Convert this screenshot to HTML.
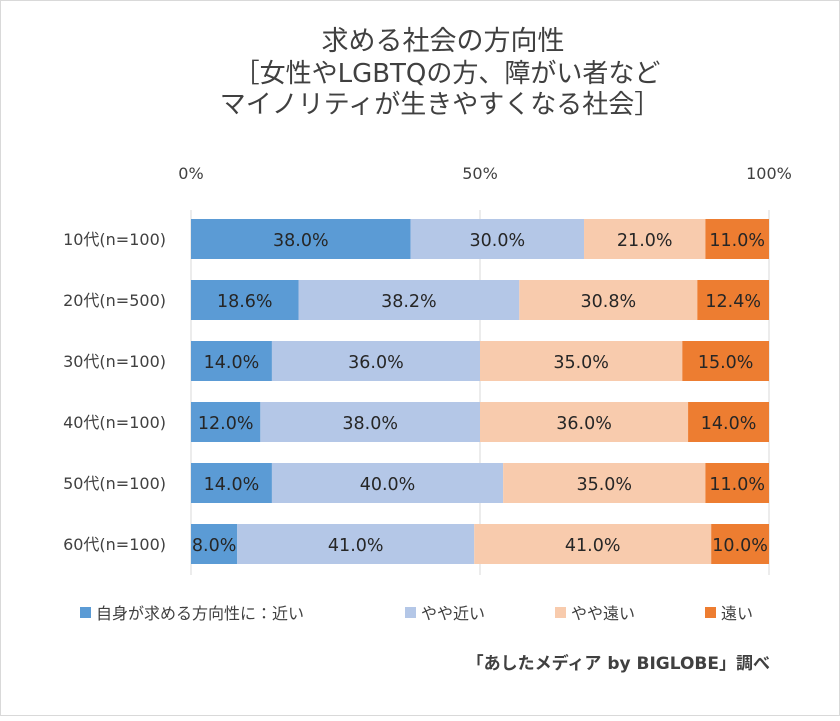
<!DOCTYPE html>
<html><head><meta charset="utf-8"><style>
body{margin:0;background:#fff}
svg text{font-family:"DejaVu Sans","Noto Sans CJK JP",sans-serif;fill:#404040}
</style></head><body>
<svg id="chart" width="840" height="716" viewBox="0 0 840 716">
<rect x="0.5" y="0.5" width="839" height="715" fill="#fff" stroke="#d9d9d9"/>
<g text-anchor="middle">
<text x="443" y="50" font-size="27">求める社会の方向性</text>
<text x="447" y="82" font-size="26">［女性やLGBTQの方、障がい者など</text>
<text x="440" y="113" font-size="26">マイノリティが生きやすくなる社会］</text>
</g>
<g id="grid"></g><g id="bars"></g>
<g font-size="16">
<rect x="80" y="607" width="11" height="11" fill="#5B9BD5"/>
<text x="96" y="619">自身が求める方向性に：近い</text>
<rect x="405" y="607" width="11" height="11" fill="#B4C7E7"/>
<text x="421" y="619">やや近い</text>
<rect x="555" y="607" width="11" height="11" fill="#F8CBAD"/>
<text x="571" y="619">やや遠い</text>
<rect x="705" y="607" width="11" height="11" fill="#ED7D31"/>
<text x="721" y="619">遠い</text>
</g>
<text x="770" y="669" text-anchor="end" font-size="17" font-weight="bold">「あしたメディア by BIGLOBE」調べ</text>
</svg>
<script>
const categories=["10代(n=100)","20代(n=500)","30代(n=100)","40代(n=100)","50代(n=100)","60代(n=100)"];
const near=[38.0,18.6,14.0,12.0,14.0,8.0];
const somewhatNear=[30.0,38.2,36.0,38.0,40.0,41.0];
const somewhatFar=[21.0,30.8,35.0,36.0,35.0,41.0];
const far=[11.0,12.4,15.0,14.0,11.0,10.0];
const ticks=[0,50,100];
const seriesList=[near,somewhatNear,somewhatFar,far];
const seriesNames=["near","somewhat-near","somewhat-far","far"];
const colors=["#5B9BD5","#B4C7E7","#F8CBAD","#ED7D31"];
const NS="http://www.w3.org/2000/svg";
const x0=191,x1=769;
const xs=v=>x0+(x1-x0)*v/100;
const yRow=i=>219+i*61;
const bh=40;
const grid=document.getElementById('grid'),bars=document.getElementById('bars');
ticks.forEach(t=>{
 const l=document.createElementNS(NS,'line');
 l.setAttribute('x1',xs(t));l.setAttribute('x2',xs(t));l.setAttribute('y1',210);l.setAttribute('y2',575);
 l.setAttribute('stroke','#d9d9d9');
 
 
 grid.appendChild(l);
 const tx=document.createElementNS(NS,'text');
 tx.setAttribute('x',xs(t));tx.setAttribute('y',179);tx.setAttribute('text-anchor','middle');tx.setAttribute('font-size','16');
 tx.textContent=t+'%';
 
 
 grid.appendChild(tx);
});
categories.forEach((c,i)=>{
 const y=yRow(i);
 const lb=document.createElementNS(NS,'text');
 lb.setAttribute('x',166);lb.setAttribute('y',y+26);lb.setAttribute('text-anchor','end');lb.setAttribute('font-size','16');
 lb.textContent=c;
 
 
 bars.appendChild(lb);
 let acc=0;
 seriesList.forEach((s,k)=>{
  const v=s[i];
  const r=document.createElementNS(NS,'rect');
  r.setAttribute('x',xs(acc));r.setAttribute('y',y);r.setAttribute('width',xs(acc+v)-xs(acc));r.setAttribute('height',bh);r.setAttribute('fill',colors[k]);
  
  
  bars.appendChild(r);
  const t=document.createElementNS(NS,'text');
  t.setAttribute('x',(xs(acc)+xs(acc+v))/2);t.setAttribute('y',y+27);t.setAttribute('text-anchor','middle');t.setAttribute('font-size','17.5');
  t.style.fill='#262626';
  t.textContent=v.toFixed(1)+'%';
  
  
  bars.appendChild(t);
  acc+=v;
 });
});
</script>
</body></html>
